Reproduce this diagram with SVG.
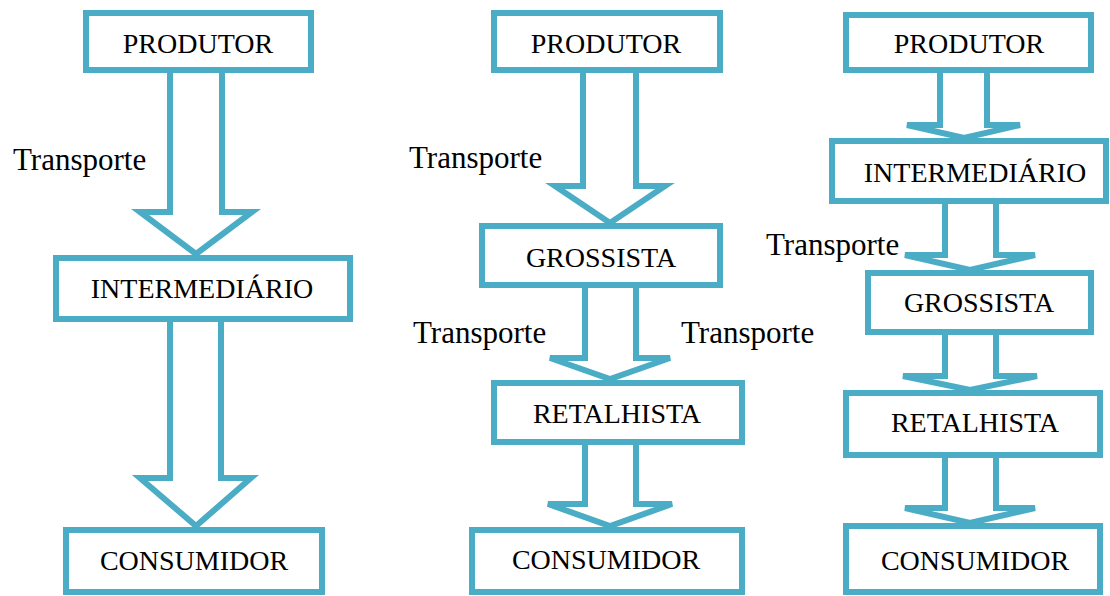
<svg xmlns="http://www.w3.org/2000/svg" width="1110" height="596" viewBox="0 0 1110 596">
<style>
.box{fill:#fff;stroke:#4BACC6;stroke-width:6}
.arr{fill:#fff;stroke:#4BACC6;stroke-width:6;stroke-linejoin:miter}
.lbl{font-family:"Liberation Serif","Times New Roman",serif;font-size:28px;fill:#000;text-anchor:middle}
.tr{font-family:"Liberation Serif","Times New Roman",serif;font-size:31px;fill:#000}
</style>
<rect width="1110" height="596" fill="#fff"/>
<g id="connectors">
<polygon class="arr" points="170,70 222,70 222,212 252,212 196,254 140,212 170,212"/>
<polygon class="arr" points="170,319 221,319 221,478 251,478 196,526 140,478 170,478"/>
<polygon class="arr" points="583,70 636,70 636,186 665,186 610,223 555,186 583,186"/>
<polygon class="arr" points="585,285 636,285 636,358 670,358 610,379 550,358 585,358"/>
<polygon class="arr" points="585,442 636,442 636,504 672,504 610,526 548,504 585,504"/>
<polygon class="arr" points="940,70 987,70 987,125 1020,125 964,138 907,125 940,125"/>
<polygon class="arr" points="945,201 996,201 996,255 1035,255 970,270 905,255 945,255"/>
<polygon class="arr" points="945,332 996,332 996,376 1037,376 970,390 903,376 945,376"/>
<polygon class="arr" points="945,455 996,455 996,508 1035,508 970,523 905,508 945,508"/>
<text class="tr" x="13" y="170">Transporte</text>
<text class="tr" x="409" y="168">Transporte</text>
<text class="tr" x="413" y="343">Transporte</text>
<text class="tr" x="681" y="343">Transporte</text>
<text class="tr" x="766" y="255">Transporte</text>
</g>
<g id="c1-produtor"><rect class="box" x="86" y="13" width="225" height="57"/><text class="lbl" x="198" y="53">PRODUTOR</text></g>
<g id="c1-intermediario"><rect class="box" x="56" y="258" width="294" height="61"/><text class="lbl" x="202" y="298">INTERMEDIÁRIO</text></g>
<g id="c1-consumidor"><rect class="box" x="66" y="530" width="256" height="62"/><text class="lbl" x="194" y="570">CONSUMIDOR</text></g>
<g id="c2-produtor"><rect class="box" x="494" y="13" width="226" height="57"/><text class="lbl" x="606" y="53">PRODUTOR</text></g>
<g id="c2-grossista"><rect class="box" x="482" y="226" width="238" height="59"/><text class="lbl" x="601" y="267">GROSSISTA</text></g>
<g id="c2-retalhista"><rect class="box" x="494" y="383" width="248" height="59"/><text class="lbl" x="617" y="423">RETALHISTA</text></g>
<g id="c2-consumidor"><rect class="box" x="472" y="530" width="270" height="62"/><text class="lbl" x="606" y="569">CONSUMIDOR</text></g>
<g id="c3-produtor"><rect class="box" x="846" y="15" width="245" height="55"/><text class="lbl" x="969" y="53">PRODUTOR</text></g>
<g id="c3-intermediario"><rect class="box" x="832" y="141" width="274" height="60"/><text class="lbl" x="975" y="182">INTERMEDIÁRIO</text></g>
<g id="c3-grossista"><rect class="box" x="868" y="273" width="223" height="59"/><text class="lbl" x="979" y="312">GROSSISTA</text></g>
<g id="c3-retalhista"><rect class="box" x="846" y="393" width="254" height="62"/><text class="lbl" x="975" y="432">RETALHISTA</text></g>
<g id="c3-consumidor"><rect class="box" x="846" y="526" width="254" height="66"/><text class="lbl" x="975" y="570">CONSUMIDOR</text></g>
</svg>
